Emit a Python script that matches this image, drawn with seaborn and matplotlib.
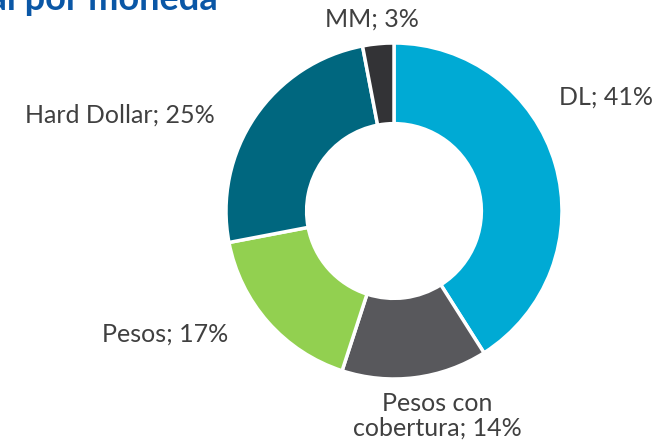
import matplotlib
matplotlib.use("Agg")
import matplotlib.pyplot as plt
import seaborn as sns

sns.set_theme(style="white")
plt.rcParams['font.family'] = ['Lato', 'DejaVu Sans']

categories = ["DL", "Pesos con\ncobertura", "Pesos", "Hard Dollar", "MM"]
values = [41, 14, 17, 25, 3]
colors = ["#00AAD4", "#58585C", "#92D050", "#00677F", "#333336"]
label_pos = [(1.26, 0.68), (0.26, -1.22), (-1.36, -0.73), (-1.63, 0.57), (-0.13, 1.14)]

W, H = 662, 444
cx, cy, R = 394, 211, 168

fig = plt.figure(figsize=(W / 100, H / 100), dpi=100)
ax = fig.add_axes([0, 0, 1, 1])
ax.pie(values, colors=colors, startangle=90, counterclock=False, radius=1.0,
       wedgeprops=dict(width=0.48, edgecolor="white", linewidth=2.5))
ax.set_xlim(-cx / R, (W - cx) / R)
ax.set_ylim(-(H - cy) / R, cy / R)
ax.set_aspect('auto')
ax.axis('off')

for cat, v, (x, y) in zip(categories, values, label_pos):
    ax.text(x, y, f"{cat}; {v}%", ha="center", va="center", fontsize=18,
            color="#404040", linespacing=1.1)

fig.text(218 / W, 1 - 10 / H, "Cartera total por moneda", ha="right", va="baseline",
         fontsize=26, fontweight="bold", color="#0A57A6")

fig.savefig("out.png", dpi=100)
